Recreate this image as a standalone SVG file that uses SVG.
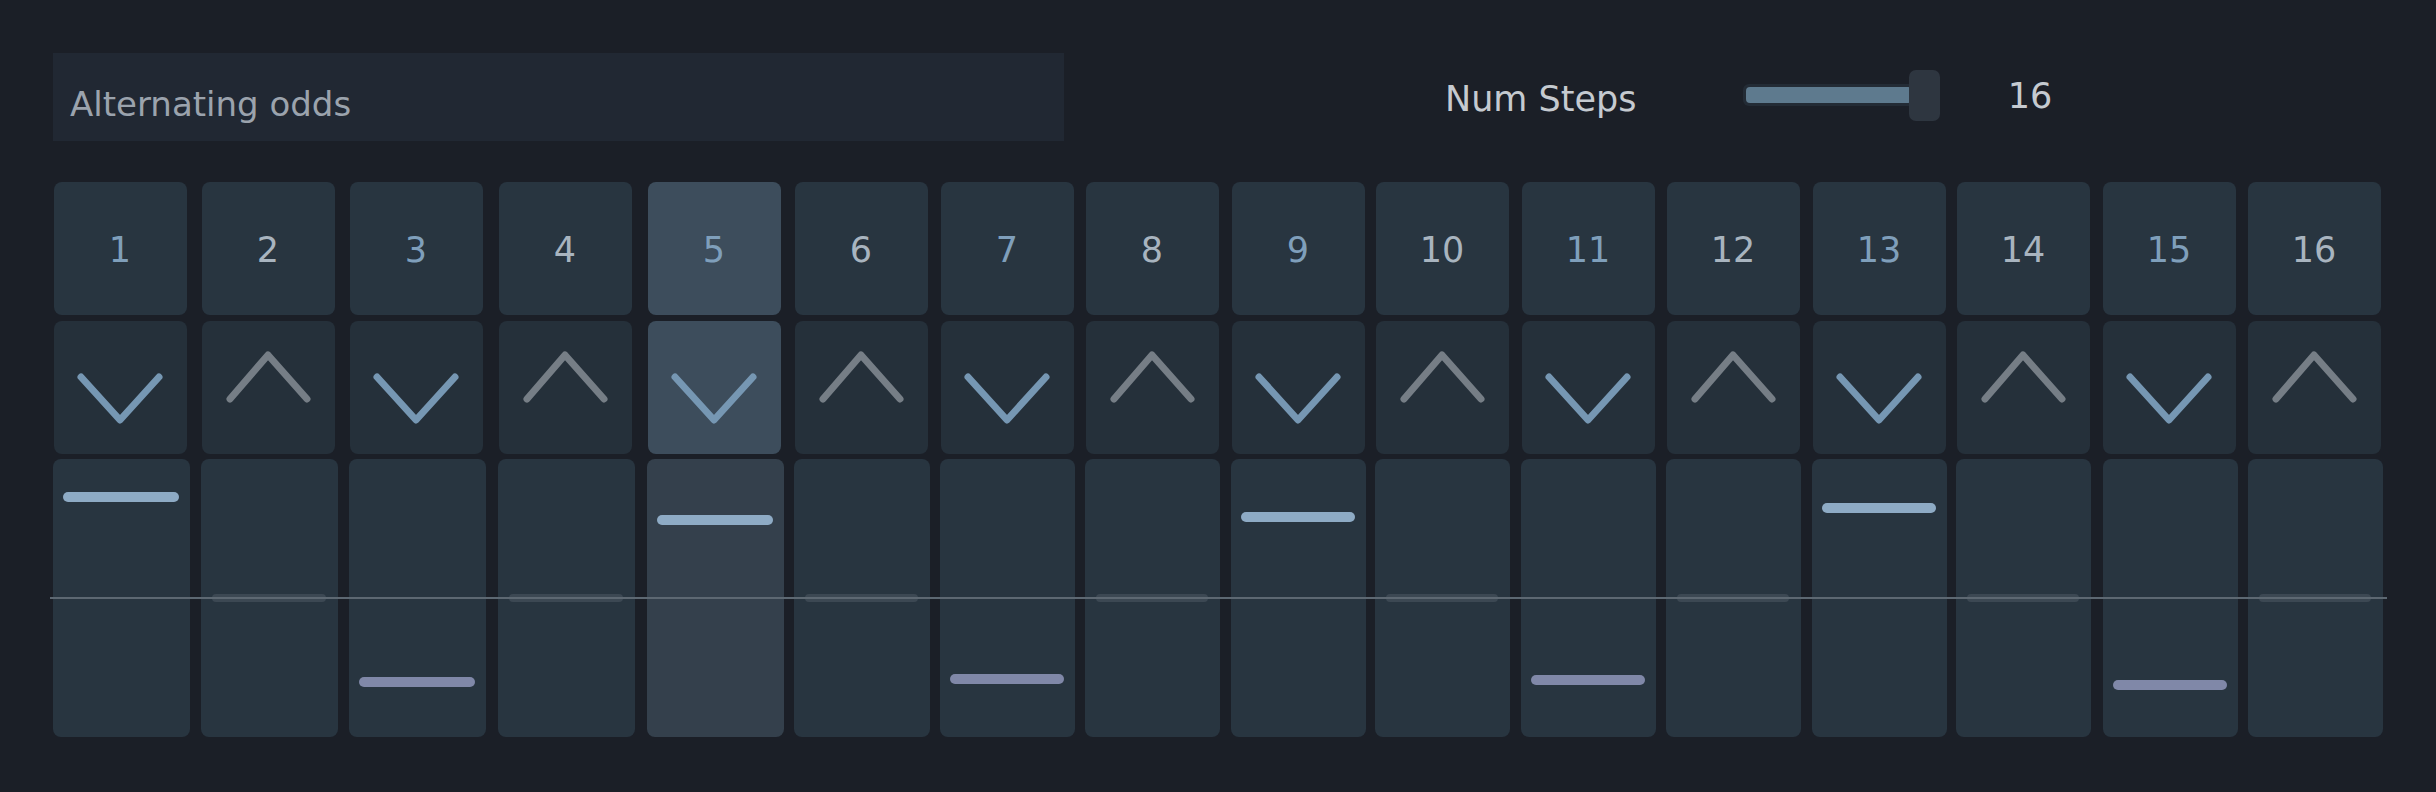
<svg xmlns="http://www.w3.org/2000/svg" width="2436" height="792" viewBox="0 0 2436 792">
<style>
.c1{fill:#283540}.c2{fill:#25303a}.c3{fill:#283540}
.hl{fill:#3d4d5c}.hl3{fill:#34404c}
.n{font-family:"DejaVu Sans",sans-serif;font-size:35px;text-anchor:middle}
.odd{fill:#7f9fbb}.even{fill:#a8b4bf}
.dn{fill:none;stroke:#7697b3;stroke-width:7;stroke-linecap:round;stroke-linejoin:round}
.up{fill:none;stroke:#767e86;stroke-width:7;stroke-linecap:round;stroke-linejoin:round}
.bh{stroke:#8eabc5;stroke-width:10;stroke-linecap:round}
.bl{stroke:#8088a8;stroke-width:10;stroke-linecap:round}
.bz{stroke:#3c4853;stroke-width:8;stroke-linecap:round}
</style>
<rect width="2436" height="792" fill="#1b1f27"/>
<g id="name-field"><rect x="53" y="53" width="1011" height="88" fill="#212833"/>
<text x="70" y="116" font-family="DejaVu Sans,sans-serif" font-size="34" fill="#9ba3ad">Alternating odds</text></g>
<g id="num-steps"><text x="1445" y="111" font-family="DejaVu Sans,sans-serif" font-size="35" fill="#c5cad0">Num Steps</text>
<rect x="1743" y="84" width="172" height="22" rx="6" fill="#232b35"/>
<rect x="1746" y="87" width="166" height="16" rx="4" fill="#5e7a8e"/>
<rect x="1909" y="70" width="31" height="51" rx="7" fill="#2e3640"/>
<text x="2030" y="108" font-family="DejaVu Sans,sans-serif" font-size="35" fill="#c5cad0" text-anchor="middle">16</text></g>
<g id="steps">
<g id="s1"><rect class="c1" x="54" y="182" width="133" height="133" rx="8"/><text class="n odd" x="120" y="262">1</text><rect class="c2" x="54" y="321" width="133" height="133" rx="8"/><polyline class="dn" points="81,377 120,420 159,377"/><rect class="c3" x="53" y="459" width="137" height="278" rx="8"/><line class="bh" x1="68" y1="497" x2="174" y2="497"/></g>
<g id="s2"><rect class="c1" x="202" y="182" width="133" height="133" rx="8"/><text class="n even" x="268" y="262">2</text><rect class="c2" x="202" y="321" width="133" height="133" rx="8"/><polyline class="up" points="230,399 268,355 307,399"/><rect class="c3" x="201" y="459" width="137" height="278" rx="8"/><line class="bz" x1="216" y1="598" x2="322" y2="598"/></g>
<g id="s3"><rect class="c1" x="350" y="182" width="133" height="133" rx="8"/><text class="n odd" x="416" y="262">3</text><rect class="c2" x="350" y="321" width="133" height="133" rx="8"/><polyline class="dn" points="377,377 416,420 455,377"/><rect class="c3" x="349" y="459" width="137" height="278" rx="8"/><line class="bl" x1="364" y1="682" x2="470" y2="682"/></g>
<g id="s4"><rect class="c1" x="499" y="182" width="133" height="133" rx="8"/><text class="n even" x="565" y="262">4</text><rect class="c2" x="499" y="321" width="133" height="133" rx="8"/><polyline class="up" points="527,399 565,355 604,399"/><rect class="c3" x="498" y="459" width="137" height="278" rx="8"/><line class="bz" x1="513" y1="598" x2="619" y2="598"/></g>
<g id="s5"><rect class="hl" x="648" y="182" width="133" height="133" rx="8"/><text class="n odd" x="714" y="262">5</text><rect class="hl" x="648" y="321" width="133" height="133" rx="8"/><polyline class="dn" points="675,377 714,420 753,377"/><rect class="hl3" x="647" y="459" width="137" height="278" rx="8"/><line class="bh" x1="662" y1="520" x2="768" y2="520"/></g>
<g id="s6"><rect class="c1" x="795" y="182" width="133" height="133" rx="8"/><text class="n even" x="861" y="262">6</text><rect class="c2" x="795" y="321" width="133" height="133" rx="8"/><polyline class="up" points="823,399 861,355 900,399"/><rect class="c3" x="794" y="459" width="136" height="278" rx="8"/><line class="bz" x1="809" y1="598" x2="914" y2="598"/></g>
<g id="s7"><rect class="c1" x="941" y="182" width="133" height="133" rx="8"/><text class="n odd" x="1007" y="262">7</text><rect class="c2" x="941" y="321" width="133" height="133" rx="8"/><polyline class="dn" points="968,377 1007,420 1046,377"/><rect class="c3" x="940" y="459" width="135" height="278" rx="8"/><line class="bl" x1="955" y1="679" x2="1059" y2="679"/></g>
<g id="s8"><rect class="c1" x="1086" y="182" width="133" height="133" rx="8"/><text class="n even" x="1152" y="262">8</text><rect class="c2" x="1086" y="321" width="133" height="133" rx="8"/><polyline class="up" points="1114,399 1152,355 1191,399"/><rect class="c3" x="1085" y="459" width="135" height="278" rx="8"/><line class="bz" x1="1100" y1="598" x2="1204" y2="598"/></g>
<g id="s9"><rect class="c1" x="1232" y="182" width="133" height="133" rx="8"/><text class="n odd" x="1298" y="262">9</text><rect class="c2" x="1232" y="321" width="133" height="133" rx="8"/><polyline class="dn" points="1259,377 1298,420 1337,377"/><rect class="c3" x="1231" y="459" width="135" height="278" rx="8"/><line class="bh" x1="1246" y1="517" x2="1350" y2="517"/></g>
<g id="s10"><rect class="c1" x="1376" y="182" width="133" height="133" rx="8"/><text class="n even" x="1442" y="262">10</text><rect class="c2" x="1376" y="321" width="133" height="133" rx="8"/><polyline class="up" points="1404,399 1442,355 1481,399"/><rect class="c3" x="1375" y="459" width="135" height="278" rx="8"/><line class="bz" x1="1390" y1="598" x2="1494" y2="598"/></g>
<g id="s11"><rect class="c1" x="1522" y="182" width="133" height="133" rx="8"/><text class="n odd" x="1588" y="262">11</text><rect class="c2" x="1522" y="321" width="133" height="133" rx="8"/><polyline class="dn" points="1549,377 1588,420 1627,377"/><rect class="c3" x="1521" y="459" width="135" height="278" rx="8"/><line class="bl" x1="1536" y1="680" x2="1640" y2="680"/></g>
<g id="s12"><rect class="c1" x="1667" y="182" width="133" height="133" rx="8"/><text class="n even" x="1733" y="262">12</text><rect class="c2" x="1667" y="321" width="133" height="133" rx="8"/><polyline class="up" points="1695,399 1733,355 1772,399"/><rect class="c3" x="1666" y="459" width="135" height="278" rx="8"/><line class="bz" x1="1681" y1="598" x2="1785" y2="598"/></g>
<g id="s13"><rect class="c1" x="1813" y="182" width="133" height="133" rx="8"/><text class="n odd" x="1879" y="262">13</text><rect class="c2" x="1813" y="321" width="133" height="133" rx="8"/><polyline class="dn" points="1840,377 1879,420 1918,377"/><rect class="c3" x="1812" y="459" width="135" height="278" rx="8"/><line class="bh" x1="1827" y1="508" x2="1931" y2="508"/></g>
<g id="s14"><rect class="c1" x="1957" y="182" width="133" height="133" rx="8"/><text class="n even" x="2023" y="262">14</text><rect class="c2" x="1957" y="321" width="133" height="133" rx="8"/><polyline class="up" points="1985,399 2023,355 2062,399"/><rect class="c3" x="1956" y="459" width="135" height="278" rx="8"/><line class="bz" x1="1971" y1="598" x2="2075" y2="598"/></g>
<g id="s15"><rect class="c1" x="2103" y="182" width="133" height="133" rx="8"/><text class="n odd" x="2169" y="262">15</text><rect class="c2" x="2103" y="321" width="133" height="133" rx="8"/><polyline class="dn" points="2130,377 2169,420 2208,377"/><rect class="c3" x="2103" y="459" width="135" height="278" rx="8"/><line class="bl" x1="2118" y1="685" x2="2222" y2="685"/></g>
<g id="s16"><rect class="c1" x="2248" y="182" width="133" height="133" rx="8"/><text class="n even" x="2314" y="262">16</text><rect class="c2" x="2248" y="321" width="133" height="133" rx="8"/><polyline class="up" points="2276,399 2314,355 2353,399"/><rect class="c3" x="2248" y="459" width="135" height="278" rx="8"/><line class="bz" x1="2263" y1="598" x2="2367" y2="598"/></g>
</g>
<g id="connectors"><line x1="50" y1="598" x2="2387" y2="598" stroke="#5d6872" stroke-width="2"/></g>
</svg>
